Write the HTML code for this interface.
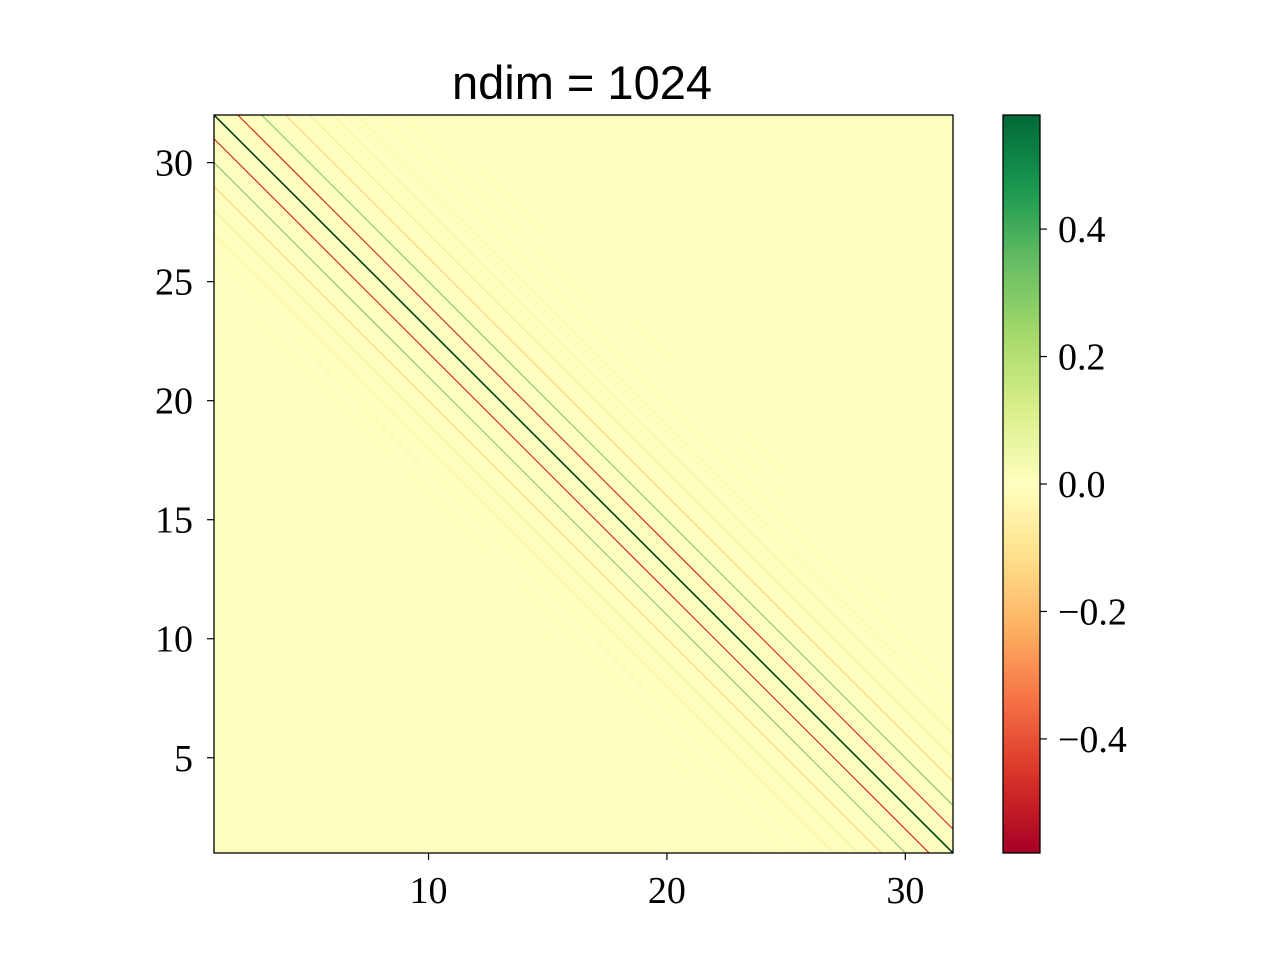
<!DOCTYPE html>
<html><head><meta charset="utf-8"><style>html,body{margin:0;background:#fff;overflow:hidden;width:1280px;height:960px}svg{display:block;overflow:hidden}</style></head>
<body>
<svg id="chart" width="1280" height="960" xmlns="http://www.w3.org/2000/svg">
<defs>
<linearGradient id="cbg" x1="0" y1="1" x2="0" y2="0">
<stop offset="0" stop-color="#a50026"/><stop offset="0.1" stop-color="#d73027"/><stop offset="0.2" stop-color="#f46d43"/><stop offset="0.3" stop-color="#fdae61"/><stop offset="0.4" stop-color="#fee08b"/><stop offset="0.5" stop-color="#ffffbf"/><stop offset="0.6" stop-color="#d9ef8b"/><stop offset="0.7" stop-color="#a6d96a"/><stop offset="0.8" stop-color="#66bd63"/><stop offset="0.9" stop-color="#1a9850"/><stop offset="1" stop-color="#006837"/>
</linearGradient>
<clipPath id="clip"><rect x="214" y="115" width="739" height="738"/></clipPath>
</defs>
<text x="582" y="99" text-anchor="middle" font-family="Liberation Sans, sans-serif" font-size="47">ndim = 1024</text>
<rect x="214" y="115" width="739" height="738" fill="#feffbe"/>
<g id="marks" clip-path="url(#clip)"></g>
<rect x="214" y="115" width="739" height="738" fill="none" stroke="#000" stroke-width="1.3"/>
<g id="axes" font-family="Liberation Serif, serif" font-size="38"></g>
<rect x="1003" y="115" width="37" height="738" fill="url(#cbg)" stroke="#000" stroke-width="1.3"/>
<g id="cbaxis" font-family="Liberation Serif, serif" font-size="38"></g>
</svg>
<script>
const offsets = [0,1,2,3,4,5,6,7,8,9,10,11,12,13,14];
const offsetValues = [0.57,-0.47,0.32,-0.16,0.09,-0.06,0.045,-0.035,0.028,-0.022,0.018,-0.014,0.011,-0.009,0.007];
const xTicks = [10,20,30];
const yTicks = [5,10,15,20,25,30];
const cbTicks = [-0.4,-0.2,0.0,0.2,0.4];
const cbTickLabels = ["\u22120.4","\u22120.2","0.0","0.2","0.4"];
const xMin=1,xMax=32,yMin=1,yMax=32,vMin=-0.579,vMax=0.579;
const X=v=>214+(v-xMin)/(xMax-xMin)*739;
const Y=v=>853-(v-yMin)/(yMax-yMin)*738;
const CB=v=>853-(v-vMin)/(vMax-vMin)*738;
const stops=["#a50026","#d73027","#f46d43","#fdae61","#fee08b","#ffffbf","#d9ef8b","#a6d96a","#66bd63","#1a9850","#006837"];
function hex(h){return [1,3,5].map(i=>parseInt(h.substr(i,2),16));}
function cmap(v){let t=(v-vMin)/(vMax-vMin);t=Math.max(0,Math.min(1,t))*10;const i=Math.min(9,Math.floor(t)),f=t-i;const a=hex(stops[i]),b=hex(stops[i+1]);return 'rgb('+a.map((c,j)=>Math.round(c+(b[j]-c)*f)).join(',')+')';}
const NS="http://www.w3.org/2000/svg";
function mk(tag,attrs,parent){const e=document.createElementNS(NS,tag);for(const k in attrs)e.setAttribute(k,attrs[k]);parent.appendChild(e);return e;}
const marks=document.getElementById('marks');
offsets.forEach((k,i)=>{
  const col=k===0?'#00401f':(k===1?'#e00808':cmap(offsetValues[i]));
  [k,-k].forEach((kk,j)=>{
    if(k===0&&j===1)return;
    const l=mk('line',{x1:X(xMin-1),y1:Y(33-(xMin-1)+kk),x2:X(xMax+1),y2:Y(33-(xMax+1)+kk),stroke:col,'stroke-width':k===0?1.6:1},marks);
    
    
  });
});
const ax=document.getElementById('axes');
xTicks.forEach(t=>{
  const g=mk('g',{},ax);
  
  
  mk('line',{x1:X(t),x2:X(t),y1:853,y2:860,stroke:'#000','stroke-width':1.2},g);
  const tx=mk('text',{x:X(t),y:903,'text-anchor':'middle'},g);tx.textContent=t;
});
yTicks.forEach(t=>{
  const g=mk('g',{},ax);
  
  
  mk('line',{x1:207,x2:214,y1:Y(t),y2:Y(t),stroke:'#000','stroke-width':1.2},g);
  const tx=mk('text',{x:193,y:Y(t)+13,'text-anchor':'end'},g);tx.textContent=t;
});
const cb=document.getElementById('cbaxis');
cbTicks.forEach((t,i)=>{
  const g=mk('g',{},cb);
  
  
  mk('line',{x1:1040,x2:1047,y1:CB(t),y2:CB(t),stroke:'#000','stroke-width':1.2},g);
  const tx=mk('text',{x:1058,y:CB(t)+13},g);tx.textContent=cbTickLabels[i];
});
</script>
</body></html>
